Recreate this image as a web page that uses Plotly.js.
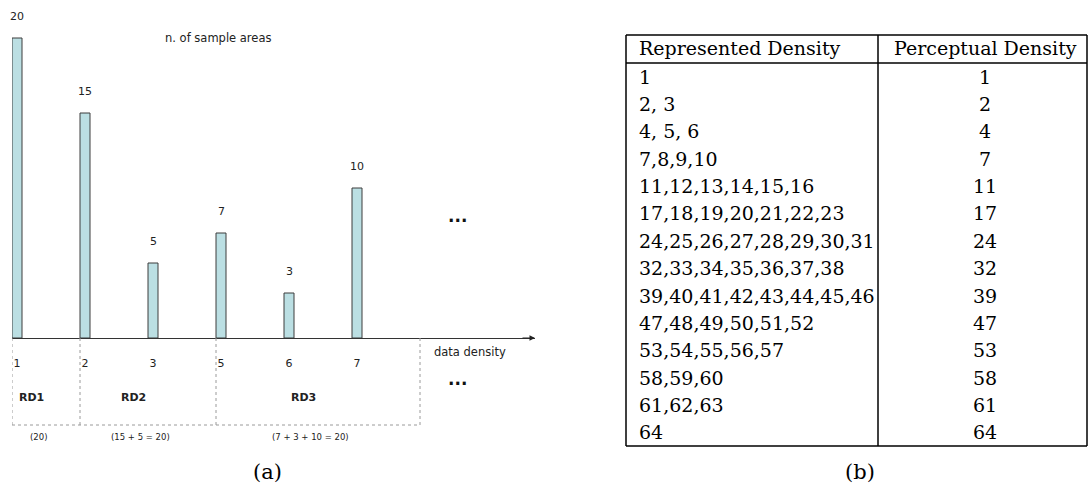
<!DOCTYPE html>
<html>
<head>
<meta charset="utf-8">
<script src="https://cdn.plot.ly/plotly-3.0.1.min.js"></script>
<style>html,body{margin:0;padding:0;background:#fff;}#chart{width:1088px;height:490px;}</style>
</head>
<body>
<div id="chart"></div>
<script>
// ---- data ----
const categories = ['1', '2', '3', '5', '6', '7'];
const sampleAreas = [20, 15, 5, 7, 3, 10];
const groupNames = ['RD1', 'RD2', 'RD3'];
const groupSizes = [1, 2, 3];
const tableHeader = ['Represented Density', 'Perceptual Density'];
const representedDensity = ['1', '2, 3', '4, 5, 6', '7,8,9,10', '11,12,13,14,15,16',
  '17,18,19,20,21,22,23', '24,25,26,27,28,29,30,31', '32,33,34,35,36,37,38',
  '39,40,41,42,43,44,45,46', '47,48,49,50,51,52', '53,54,55,56,57', '58,59,60', '61,62,63', '64'];
const perceptualDensity = [1, 2, 4, 7, 11, 17, 24, 32, 39, 47, 53, 58, 61, 64];
const subLabels = ['(a)', '(b)'];

// ---- layout helpers ----
const W = 1088, H = 490;
const px = v => v / W;
const py = v => 1 - v / H;
const unit = 68;           // px per category slot
const hw = 5 / unit;       // half bar width in data units
const idx = categories.map((c, i) => i);
const sans = 'DejaVu Sans, Verdana, sans-serif';
const serif = 'DejaVu Serif, Liberation Serif, serif';
const ink = '#222';

const annotations = [];
const shapes = [];
function note(o) {
  annotations.push(Object.assign({showarrow: false, xanchor: 'center', yanchor: 'middle'}, o));
}

// value labels on bars
sampleAreas.forEach((v, i) => note({
  x: i, y: v, xref: 'x', yref: 'y', text: String(v),
  yanchor: 'bottom', yshift: 13, font: {family: sans, size: 11, color: ink}
}));

// axis arrow head
annotations.push({
  x: 518 / unit, y: 0, xref: 'x', yref: 'y', ax: -14, ay: 0, text: '',
  showarrow: true, arrowhead: 2, arrowsize: 1.1, arrowwidth: 1, arrowcolor: '#222', standoff: 0
});

// texts
note({x: px(218), y: py(38), xref: 'paper', yref: 'paper', text: 'n. of sample areas',
  font: {family: sans, size: 11.5, color: ink}});
note({x: px(470), y: py(352), xref: 'paper', yref: 'paper', text: 'data density',
  font: {family: sans, size: 11.5, color: ink}});
[220, 383].forEach(yy => note({x: px(457), y: py(yy - 4), xref: 'paper', yref: 'paper', text: '...',
  font: {family: sans, size: 17, color: '#111', weight: 'bold'}}));

// groups (dotted boxes, RD labels, sums)
let start = 0;
const boundaries = [-hw];
groupSizes.forEach((n, g) => {
  const end = start + n;
  const vals = sampleAreas.slice(start, end);
  const total = vals.reduce((a, b) => a + b, 0);
  const center = (start + end) / 2 - hw;
  note({x: center, y: py(397), xref: 'x', yref: 'paper', xshift: -15, text: '<b>' + groupNames[g] + '</b>',
    font: {family: sans, size: 11, color: ink}});
  const sumText = vals.length > 1 ? '(' + vals.join(' + ') + ' = ' + total + ')' : '(' + total + ')';
  note({x: center, y: py(437), xref: 'x', yref: 'paper', xshift: -8, text: sumText,
    font: {family: sans, size: 8.5, color: ink}});
  boundaries.push(end - hw);
  start = end;
});
boundaries.forEach(b => shapes.push({type: 'line', xref: 'x', yref: 'paper', x0: b, x1: b, y0: py(338), y1: py(425),
  line: {color: '#9a9a9a', width: 1, dash: 'dot'}}));
shapes.push({type: 'line', xref: 'x', yref: 'paper', x0: boundaries[0], x1: boundaries[boundaries.length - 1],
  y0: py(425), y1: py(425), line: {color: '#9a9a9a', width: 1, dash: 'dot'}});

// table
const tL = 626, tR = 1087, tT = 35, tH = 63, tB = 446, tDiv = 878;
const rowH = (tB - tH) / representedDensity.length;
const lineStyle = {color: '#000', width: 1.5};
[[tL, tT, tR, tT], [tL, tB, tR, tB], [tL, tT, tL, tB], [tR, tT, tR, tB], [tL, tH, tR, tH], [tDiv, tT, tDiv, tB]]
  .forEach(s => shapes.push({type: 'line', xref: 'paper', yref: 'paper', x0: px(s[0]), y0: py(s[1]), x1: px(s[2]), y1: py(s[3]), line: lineStyle}));
const tFont = {family: serif, size: 19, color: '#000'};
note({x: px(637), y: py(48), xref: 'paper', yref: 'paper', xanchor: 'left', text: tableHeader[0], font: tFont});
note({x: px(985), y: py(48), xref: 'paper', yref: 'paper', text: tableHeader[1], font: tFont});
representedDensity.forEach((r, i) => {
  const yy = tH + rowH * (i + 0.5);
  note({x: px(637), y: py(yy), xref: 'paper', yref: 'paper', xanchor: 'left', text: r, font: tFont});
  note({x: px(985), y: py(yy), xref: 'paper', yref: 'paper', text: String(perceptualDensity[i]), font: tFont});
});

// sub labels
[[267, 472], [860, 472]].forEach((p, i) => note({x: px(p[0]), y: py(p[1]), xref: 'paper', yref: 'paper',
  text: subLabels[i], font: {family: serif, size: 21, color: '#000'}}));

const trace = {
  type: 'bar', x: idx, y: sampleAreas, width: 2 * hw,
  marker: {color: '#bbdfe3', line: {color: '#3c3c3c', width: 1}},
  hoverinfo: 'none'
};

const layout = {
  width: W, height: H,
  margin: {l: 0, r: 0, t: 0, b: 0},
  paper_bgcolor: '#fff', plot_bgcolor: 'rgba(0,0,0,0)',
  showlegend: false,
  xaxis: {
    domain: [px(12), px(535)], range: [-hw, 518 / unit],
    showgrid: false, zeroline: false, showline: true, linecolor: '#333', linewidth: 1,
    tickvals: idx, ticktext: categories, ticks: '', ticklen: 0, ticklabelstandoff: 15,
    tickfont: {family: sans, size: 11, color: ink}, fixedrange: true
  },
  yaxis: {
    domain: [152 / H, 1], range: [0, 338 / 15], visible: false, fixedrange: true
  },
  annotations: annotations,
  shapes: shapes
};

Plotly.newPlot('chart', [trace], layout, {staticPlot: true});
</script>
</body>
</html>
